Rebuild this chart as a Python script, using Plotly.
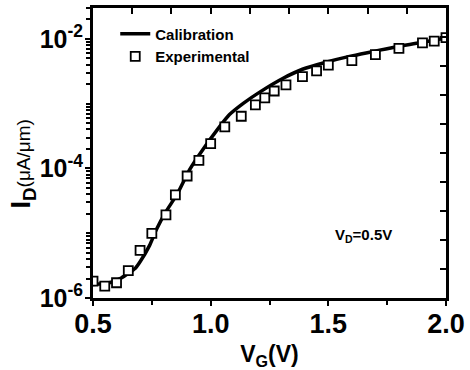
import plotly.graph_objects as go

# Calibration (simulation) curve
vg_cal = [0.50, 0.57, 0.62, 0.68, 0.70, 0.74, 0.77, 0.81, 0.86, 0.91, 0.97, 1.03,
          1.08, 1.14, 1.21, 1.31, 1.39, 1.49, 1.59, 1.69, 1.79, 1.89, 2.00]
id_cal = [1.62e-6, 1.72e-6, 2.04e-6, 2.88e-6, 3.62e-6, 6.44e-6, 1.15e-5, 2.15e-5,
          4.15e-5, 9.5e-5, 2.03e-4, 4.05e-4, 6.78e-4, 1.02e-3, 1.52e-3, 2.49e-3,
          3.40e-3, 4.37e-3, 5.37e-3, 6.38e-3, 7.59e-3, 8.71e-3, 1.035e-2]

# Experimental points
vg_exp = [0.50, 0.55, 0.60, 0.65, 0.70, 0.75, 0.81, 0.85, 0.90, 0.95, 1.00, 1.06,
          1.13, 1.19, 1.23, 1.27, 1.32, 1.39, 1.45, 1.50, 1.60, 1.70, 1.80, 1.90,
          1.95, 2.00]
id_exp = [1.82e-6, 1.53e-6, 1.72e-6, 2.65e-6, 5.42e-6, 9.98e-6, 1.92e-5, 3.92e-5,
          7.64e-5, 1.33e-4, 2.41e-4, 4.38e-4, 6.40e-4, 9.57e-4, 1.23e-3, 1.57e-3,
          1.95e-3, 2.61e-3, 3.21e-3, 3.94e-3, 4.63e-3, 5.70e-3, 7.16e-3, 8.71e-3,
          9.25e-3, 1.045e-2]

x_ticks = [0.5, 1.0, 1.5, 2.0]
x_ticktext = ["0.5", "1.0", "1.5", "2.0"]
x_minor = [0.75, 1.25, 1.75]
y_ticks = [1e-6, 1e-4, 1e-2]
y_ticktext = ["10<sup>-6</sup>", "10<sup>-4</sup>", "10<sup>-2</sup>"]
y_minor = [m * 10.0 ** e for e in range(-6, -2) for m in range(1, 10)
           if not (m == 1 and e % 2 == 0)] + [2e-2, 3e-2]

FONT = "Liberation Sans"

fig = go.Figure()
fig.add_trace(go.Scatter(
    x=vg_cal, y=id_cal, mode="lines", name="Calibration",
    line=dict(color="black", width=3.5, shape="spline", smoothing=0.6),
))
fig.add_trace(go.Scatter(
    x=vg_exp, y=id_exp, mode="markers", name="Experimental",
    marker=dict(symbol="square", size=9, color="white",
                line=dict(color="black", width=1.8)),
))
# carrier for the top/right tick axes
fig.add_trace(go.Scatter(x=[None], y=[None], xaxis="x2", yaxis="y2",
                         showlegend=False, hoverinfo="skip"))

fig.update_layout(
    width=470, height=370,
    margin=dict(l=93, r=23, t=5, b=66),
    paper_bgcolor="white", plot_bgcolor="white",
    font=dict(family=FONT, color="black"),
    showlegend=True,
    legend=dict(x=0.063, y=0.967, xanchor="left", yanchor="top",
                bgcolor="rgba(0,0,0,0)", borderwidth=0,
                font=dict(family=FONT, size=15, weight="bold"),
                tracegroupgap=0, itemwidth=30),
    xaxis=dict(
        range=[0.5, 2.0], showgrid=False, zeroline=False,
        showline=True, linecolor="black", linewidth=3, mirror=True,
        tickmode="array", tickvals=x_ticks, ticktext=x_ticktext,
        ticks="outside", ticklen=5, tickwidth=2, tickcolor="black",
        ticklabelstandoff=-5,
        tickfont=dict(family=FONT, size=27, weight="bold"),
        minor=dict(tickmode="array", tickvals=x_minor, ticks="outside",
                   ticklen=4, tickwidth=2, tickcolor="black"),
        title=dict(text="V<sub>G</sub>(V)", standoff=9,
                   font=dict(family=FONT, size=23, weight="bold")),
    ),
    yaxis=dict(
        type="log", range=[-6, -1.523], showgrid=False, zeroline=False,
        showline=True, linecolor="black", linewidth=3, mirror=True,
        tickmode="array", tickvals=y_ticks, ticktext=y_ticktext,
        ticks="outside", ticklen=5, tickwidth=2, tickcolor="black",
        ticklabelstandoff=-3,
        tickfont=dict(family=FONT, size=25, weight="bold"),
        minor=dict(tickmode="array", tickvals=y_minor, ticks="outside",
                   ticklen=4, tickwidth=2, tickcolor="black"),
    ),
    xaxis2=dict(overlaying="x", side="top", range=[0, 9], tickmode="array",
                tickvals=list(range(1, 9)), ticks="inside", ticklen=6, tickwidth=2,
                tickcolor="black", showticklabels=False, showgrid=False,
                zeroline=False, showline=False),
    yaxis2=dict(overlaying="y", side="right", range=[0, 10], tickmode="array",
                tickvals=list(range(1, 10)), ticks="inside", ticklen=6, tickwidth=2,
                tickcolor="black", showticklabels=False, showgrid=False,
                zeroline=False, showline=False),
)

# y-axis title
fig.add_annotation(x=-0.197, y=0.465, xref="paper", yref="paper", showarrow=False,
                   xanchor="center", yanchor="middle", textangle=-90,
                   text="<b>I</b><sub><b>D</b></sub><span style='font-size:19px'>(μA/μm)</span>",
                   font=dict(family=FONT, size=27, color="black"))

fig.add_annotation(x=1.65, y=-5.04, xref="x", yref="y", showarrow=False,
                   text="V<sub>D</sub>=0.5V",
                   font=dict(family=FONT, size=15, weight="bold", color="black"))

fig.write_html("out.html")
